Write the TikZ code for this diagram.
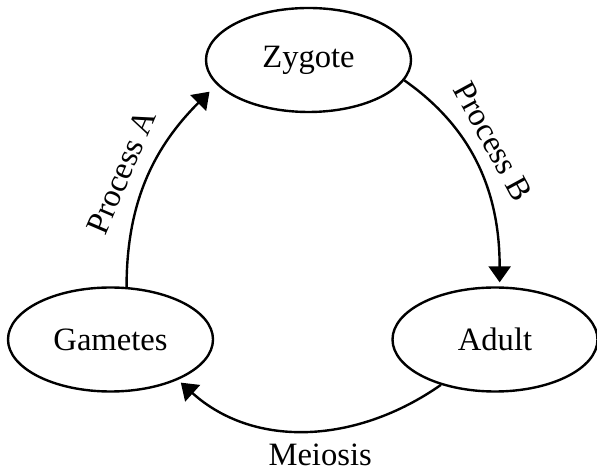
\documentclass[tikz,border=0pt]{standalone}
\usepackage{fontspec}
\setmainfont{Liberation Serif}
\usetikzlibrary{shapes.geometric,arrows.meta}

\begin{document}
\begin{tikzpicture}[x=0.5pt, y=0.5pt, line width=1.2pt,
  font=\fontsize{16.3}{19}\selectfont,
  stage/.style={draw, ellipse, minimum width=102.5pt, minimum height=52pt, inner sep=0pt},
  cycle/.style={-{Triangle[length=8pt,width=11pt]}}]
  \useasboundingbox (0,0) rectangle (597,470);
  \node[stage] (zyg) at (308.5,410) {Zygote};
  \node[stage] (gam) at (110.5,130.5) {Gametes};
  \node[stage] (adu) at (495,130.5) {Adult};
  \draw[cycle, shorten >=5pt] (gam.73) to[out=90, in=225]
    node[pos=0.47, sloped, above=4pt] {Process A} (zyg.195);
  \draw[cycle, shorten >=2pt] (zyg.-12) to[out=-35, in=90]
    node[pos=0.42, sloped, above=3pt] {Process B} (adu.85);
  \draw[cycle, shorten >=2pt] (adu.220) to[out=215, in=-42]
    node[pos=0.45, below=3pt] {Meiosis} (gam.-31);
\end{tikzpicture}
\end{document}
